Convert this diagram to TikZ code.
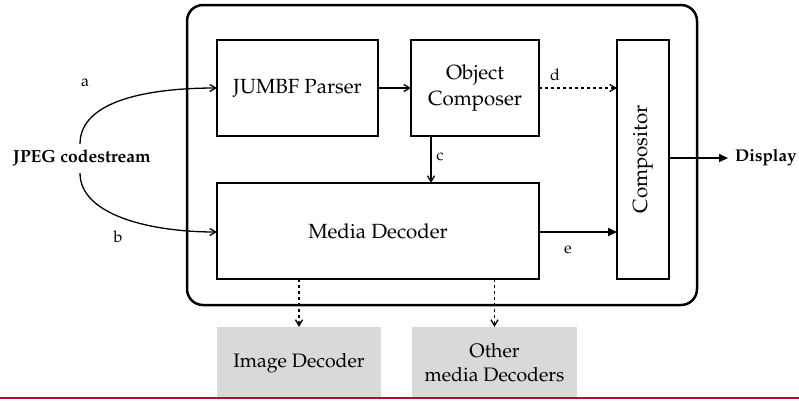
\documentclass[tikz,border=0pt]{standalone}
\usepackage[T1]{fontenc}
\usepackage{mathpazo}
\usetikzlibrary{arrows.meta}
\definecolor{redline}{RGB}{185,10,50}
\definecolor{boxgray}{RGB}{217,217,217}
\begin{document}
\begin{tikzpicture}[x=1pt,y=-1pt,
  blk/.style={draw, line width=1.5pt, inner sep=0pt, outer sep=0pt, align=center, font=\fontsize{20.5}{26}\selectfont},
  gblk/.style={fill=boxgray, inner sep=0pt, outer sep=0pt, align=center, font=\fontsize{19.5}{24}\selectfont},
  lbl/.style={font=\fontsize{16}{18}\selectfont, inner sep=0pt},
  arr/.style={line width=1.3pt, -{Straight Barb[length=6pt,width=7pt]}},
  darr/.style={line width=1.3pt, dashed, dash pattern=on 3pt off 3pt, -{Straight Barb[length=6pt,width=7pt]}},
  tarr/.style={line width=2pt, -{Triangle[length=9pt,width=8pt]}}]
\useasboundingbox (0,0) rectangle (799,400);
\draw[line width=2.5pt, rounded corners=16pt] (187,5) rectangle (697,305);
\node[blk, minimum width=161pt, minimum height=96pt] (jumbf) at (297.5,88) {JUMBF Parser};
\node[blk, minimum width=128pt, minimum height=96pt] (obj) at (475,88) {Object\\Composer};
\node[blk, minimum width=322pt, minimum height=96pt] (media) at (378,231) {Media Decoder};
\node[blk, minimum width=52pt, minimum height=239pt] (comp) at (643,159.5) {};
\node[rotate=90, font=\fontsize{20.5}{24}\selectfont] (comptext) at (comp.center) {Compositor};
\node[gblk, minimum width=164pt, minimum height=72pt] (img) at (299,363) {Image Decoder};
\node[gblk, minimum width=165pt, minimum height=72pt] (other) at (494.5,363) {Other\\media Decoders};
\fill[redline] (0,396.5) rectangle (799,399);
\node[font=\bfseries\fontsize{17.5}{20}\selectfont, inner sep=0pt] (jpeg) at (82,158) {JPEG codestream};
\node[font=\bfseries\fontsize{17}{20}\selectfont, inner sep=0pt, anchor=west] (disp) at (735,158) {Display};
\coordinate (ja) at (80,144);
\coordinate (jb) at (80,173);
\coordinate (dispend) at (728,158);
\draw[arr] (ja) .. controls (80,100) and (150,88) .. (jumbf.west |- 0,88);
\draw[arr] (jb) .. controls (80,215) and (150,232) .. (media.west |- 0,232);
\node[lbl] (la) at (85,83) {a};
\node[lbl] (lb) at (118,237) {b};
\draw[arr] (jumbf.east) -- (obj.west);
\draw[darr] (obj.east) -- (comp.west |- obj.east);
\node[lbl] (ld) at (555,75) {d};
\draw[arr] (obj.south -| 431,0) -- (media.north -| 431,0);
\node[lbl] (lc) at (440,157) {c};
\draw[tarr] (media.east |- 0,232) -- (comp.west |- 0,232);
\node[lbl] (le) at (568,250) {e};
\draw[tarr] (comp.east |- 0,158) -- (dispend);
\draw[darr] (media.south -| img.north) -- (img.north);
\draw[darr] (media.south -| other.north) -- (other.north);
\end{tikzpicture}
\end{document}
